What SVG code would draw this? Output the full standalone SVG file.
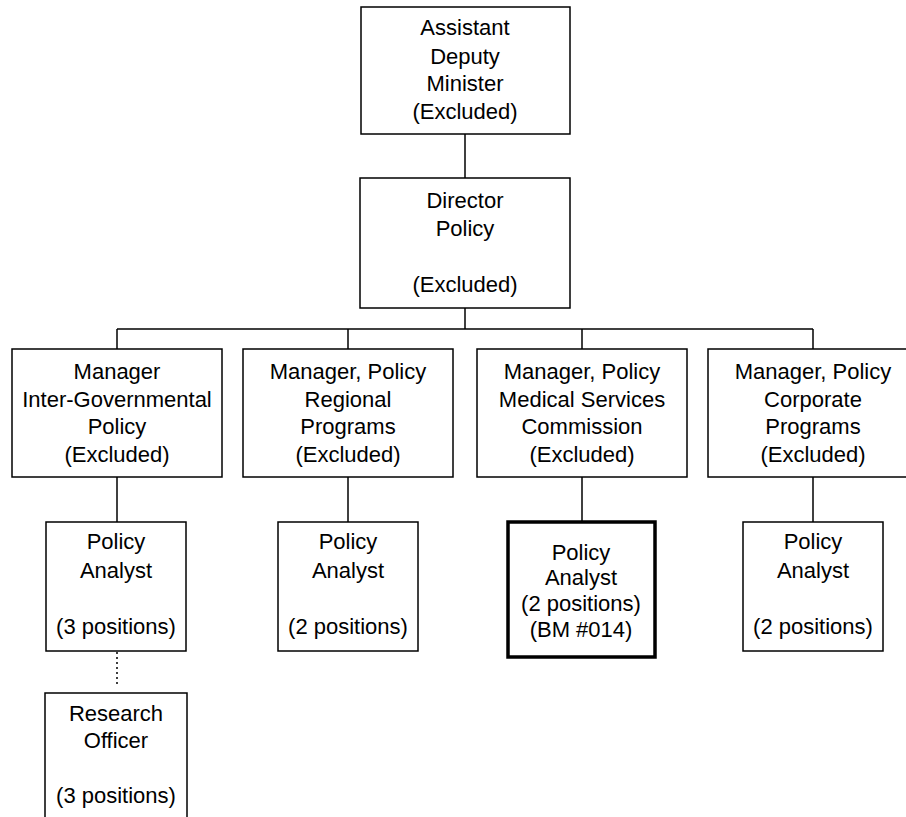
<svg xmlns="http://www.w3.org/2000/svg" width="906" height="817" viewBox="0 0 906 817">
<style>
.box{fill:#fff;stroke:#000;stroke-width:1.5}
.thick{fill:#fff;stroke:#000;stroke-width:3.5}
.ln{stroke:#000;stroke-width:1.5;fill:none}
.dot{stroke:#000;stroke-width:1.5;fill:none;stroke-dasharray:2 3}
text{font-family:"Liberation Sans",Arial,sans-serif;font-size:22px;fill:#000;text-anchor:middle}
</style>
<rect width="906" height="817" fill="#fff"/>
<g id="connectors">
<line class="ln" x1="465" y1="134" x2="465" y2="178"/>
<line class="ln" x1="465" y1="308" x2="465" y2="329"/>
<line class="ln" x1="117" y1="329" x2="813" y2="329"/>
<line class="ln" x1="117" y1="329" x2="117" y2="349"/>
<line class="ln" x1="348" y1="329" x2="348" y2="349"/>
<line class="ln" x1="582" y1="329" x2="582" y2="349"/>
<line class="ln" x1="813" y1="329" x2="813" y2="349"/>
<line class="ln" x1="117" y1="477" x2="117" y2="522"/>
<line class="ln" x1="348" y1="477" x2="348" y2="522"/>
<line class="ln" x1="582" y1="477" x2="582" y2="522"/>
<line class="ln" x1="813" y1="477" x2="813" y2="522"/>
<line class="dot" x1="117" y1="652" x2="117" y2="686"/>
</g>
<g id="adm">
<rect class="box" x="361" y="7" width="209" height="127"/>
<text x="465" y="35">Assistant</text>
<text x="465" y="64">Deputy</text>
<text x="465" y="91">Minister</text>
<text x="465" y="119">(Excluded)</text>
</g>
<g id="director">
<rect class="box" x="360" y="178" width="210" height="130"/>
<text x="465" y="208">Director</text>
<text x="465" y="236">Policy</text>
<text x="465" y="292">(Excluded)</text>
</g>
<g id="mgr-igp">
<rect class="box" x="12" y="349" width="210" height="128"/>
<text x="117" y="379">Manager</text>
<text x="117" y="407">Inter-Governmental</text>
<text x="117" y="434">Policy</text>
<text x="117" y="462">(Excluded)</text>
</g>
<g id="mgr-rp">
<rect class="box" x="243" y="349" width="210" height="128"/>
<text x="348" y="379">Manager, Policy</text>
<text x="348" y="407">Regional</text>
<text x="348" y="434">Programs</text>
<text x="348" y="462">(Excluded)</text>
</g>
<g id="mgr-msc">
<rect class="box" x="477" y="349" width="210" height="128"/>
<text x="582" y="379">Manager, Policy</text>
<text x="582" y="407">Medical Services</text>
<text x="582" y="434">Commission</text>
<text x="582" y="462">(Excluded)</text>
</g>
<g id="mgr-cp">
<rect class="box" x="708" y="349" width="212" height="128"/>
<text x="813" y="379">Manager, Policy</text>
<text x="813" y="407">Corporate</text>
<text x="813" y="434">Programs</text>
<text x="813" y="462">(Excluded)</text>
</g>
<g id="pa-igp">
<rect class="box" x="46" y="522" width="140" height="129"/>
<text x="116" y="549">Policy</text>
<text x="116" y="578">Analyst</text>
<text x="116" y="634">(3 positions)</text>
</g>
<g id="pa-rp">
<rect class="box" x="278" y="522" width="140" height="129"/>
<text x="348" y="549">Policy</text>
<text x="348" y="578">Analyst</text>
<text x="348" y="634">(2 positions)</text>
</g>
<g id="pa-msc">
<rect class="thick" x="508" y="522" width="147" height="135"/>
<text x="581" y="560">Policy</text>
<text x="581" y="585">Analyst</text>
<text x="581" y="611">(2 positions)</text>
<text x="581" y="637">(BM #014)</text>
</g>
<g id="pa-cp">
<rect class="box" x="743" y="522" width="140" height="129"/>
<text x="813" y="549">Policy</text>
<text x="813" y="578">Analyst</text>
<text x="813" y="634">(2 positions)</text>
</g>
<g id="research">
<rect class="box" x="45" y="693" width="142" height="140"/>
<text x="116" y="721">Research</text>
<text x="116" y="748">Officer</text>
<text x="116" y="803">(3 positions)</text>
</g>
</svg>
